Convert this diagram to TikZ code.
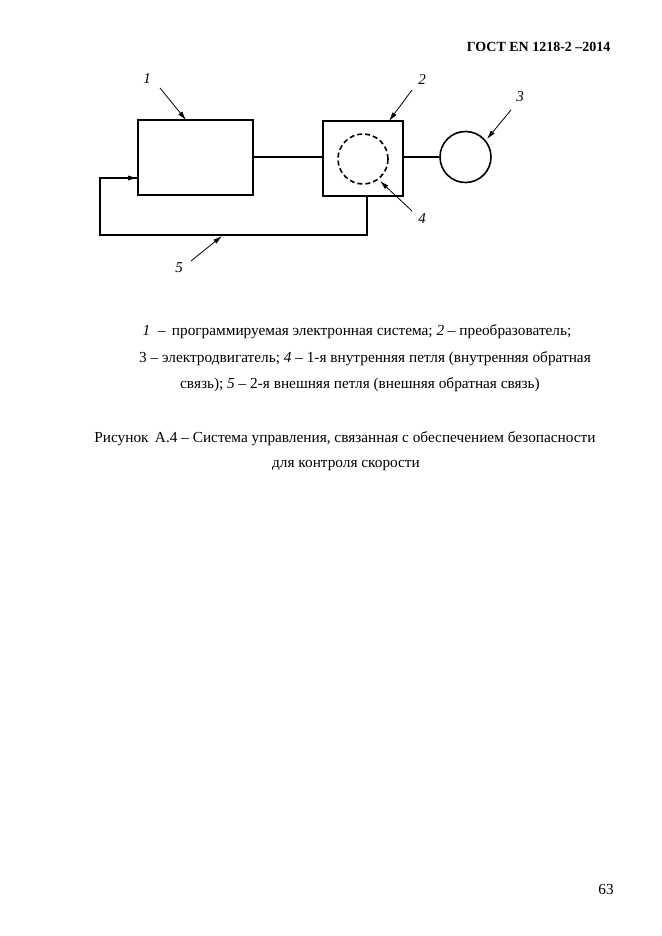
\documentclass[tikz,border=0pt]{standalone}
\usepackage{fontspec}
\setmainfont{Liberation Serif}
\usetikzlibrary{arrows.meta}
\begin{document}
\begin{tikzpicture}[x=1pt,y=-1pt,
  ln/.style={line width=1.6pt},
  lead/.style={line width=0.8pt,-{Latex[length=9pt,width=5pt]}},
  lbl/.style={font=\itshape\fontsize{15}{17}\selectfont},
  txt/.style={font=\fontsize{15.3}{18}\selectfont}]
\useasboundingbox (0,0) rectangle (661,936);
\node[draw,ln,minimum width=115pt,minimum height=75pt,inner sep=0] (b1) at (195.5,157.5) {};
\node[draw,ln,minimum width=80pt,minimum height=75pt,inner sep=0] (b2) at (363,158.5) {};
\node[draw,ln,dash pattern=on 5pt off 3pt,circle,minimum size=50pt,inner sep=0] (c4) at (363,159) {};
\node[draw,ln,circle,minimum size=51pt,inner sep=0] (c3) at (465.5,157) {};
\draw[ln] (b1.east |- 0,157) -- (b2.west |- 0,157);
\draw[ln] (b2.east |- 0,157) -- (c3.west);
\coordinate (f0) at (367,196);
\coordinate (f1) at (367,235);
\coordinate (f2) at (100,235);
\coordinate (f3) at (100,178);
\draw[ln] (f0) -- (f1) -- (f2) -- (f3) -- (b1.west |- f3);
\draw[lead] (120,178) -- (b1.west |- f3);
\node[lbl] (l1) at (147,79) {1};
\node[lbl] (l2) at (422,80) {2};
\node[lbl] (l3) at (520,97) {3};
\node[lbl] (l4) at (422,219) {4};
\node[lbl] (l5) at (179,268) {5};
\coordinate (p1) at (186,120);
\coordinate (p2) at (389,121);
\coordinate (p3) at (487,139);
\coordinate (p4) at (380,181);
\coordinate (p5) at (222,236);
\draw[lead] (160,88) -- (p1);
\draw[lead] (412,90) -- (p2);
\draw[lead] (511,110) -- (p3);
\draw[lead] (412,211) -- (p4);
\draw[lead] (191,261) -- (p5);
\node[font=\bfseries\fontsize{14}{16}\selectfont,anchor=east] (hdr) at (614,47) {ГОСТ EN 1218-2 –2014};
\node[txt] (t1) at (357,332) {\textit{1}\enspace – \,программируемая электронная система; \textit{2} – преобразователь;};
\node[txt] (t2) at (365,359) {3 – электродвигатель; \textit{4} – 1-я внутренняя петля (внутренняя обратная};
\node[txt] (t3) at (360,385) {связь); \textit{5} – 2-я внешняя петля (внешняя обратная связь)};
\node[txt] (t4) at (345,439) {Рисунок \,А.4 – Система управления, связанная с обеспечением безопасности};
\node[txt] (t5) at (346,466) {для контроля скорости};
\node[txt] (pg) at (606,889) {63};
\end{tikzpicture}
\end{document}
